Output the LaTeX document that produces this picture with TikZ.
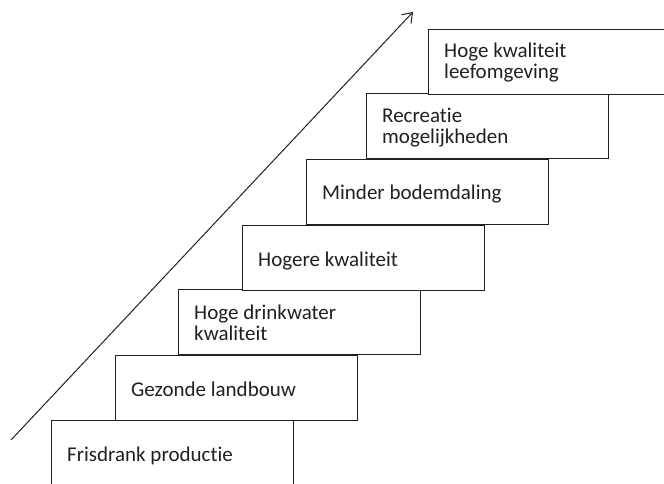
\documentclass[tikz,border=0pt]{standalone}
\usepackage{fontspec}
\setmainfont{Carlito}[Ligatures={NoCommon,NoRare}]
\usetikzlibrary{arrows.meta}
\definecolor{ink}{HTML}{231F20}
\tikzset{
  stepbox/.style={draw=ink, line width=1.1pt, fill=white, minimum width=242pt, minimum height=65pt, inner sep=0pt, anchor=north west},
  lbl/.style={text=ink, font=\fontsize{21}{21}\selectfont, inner sep=0pt, anchor=base west, align=left},
}
\begin{document}
\begin{tikzpicture}[x=1pt,y=-1pt]
\useasboundingbox (0,0) rectangle (664,484);
\node[stepbox, minimum height=75pt] (b1) at (51,420) {};
\node[stepbox] (b2) at (115,355) {};
\node[stepbox] (b3) at (178,289) {};
\node[stepbox] (b4) at (242,225) {};
\node[stepbox] (b5) at (306,159) {};
\node[stepbox] (b6) at (366,93) {};
\node[stepbox] (b7) at (428,29) {};
\node[lbl] (t1) at ([xshift=16pt,yshift=-41pt]b1.north west) {Frisdrank productie};
\node[lbl] (t2) at ([xshift=16pt,yshift=-41pt]b2.north west) {Gezonde landbouw};
\node[lbl] (t3) at ([xshift=16pt,yshift=-51pt]b3.north west) {Hoge drinkwater\\kwaliteit};
\node[lbl] (t4) at ([xshift=16pt,yshift=-41pt]b4.north west) {Hogere kwaliteit};
\node[lbl] (t5) at ([xshift=16pt,yshift=-41pt]b5.north west) {Minder bodemdaling};
\node[lbl] (t6) at ([xshift=16pt,yshift=-51pt]b6.north west) {Recreatie\\mogelijkheden};
\node[lbl] (t7) at ([xshift=16pt,yshift=-50pt]b7.north west) {Hoge kwaliteit\\leefomgeving};
\coordinate (a0) at (11,440);
\coordinate (a1) at (413,12);
\draw[ink, line width=1pt, -{Straight Barb[length=9pt,width=13pt,line width=1pt]}] (a0) -- (a1);
\end{tikzpicture}
\end{document}
